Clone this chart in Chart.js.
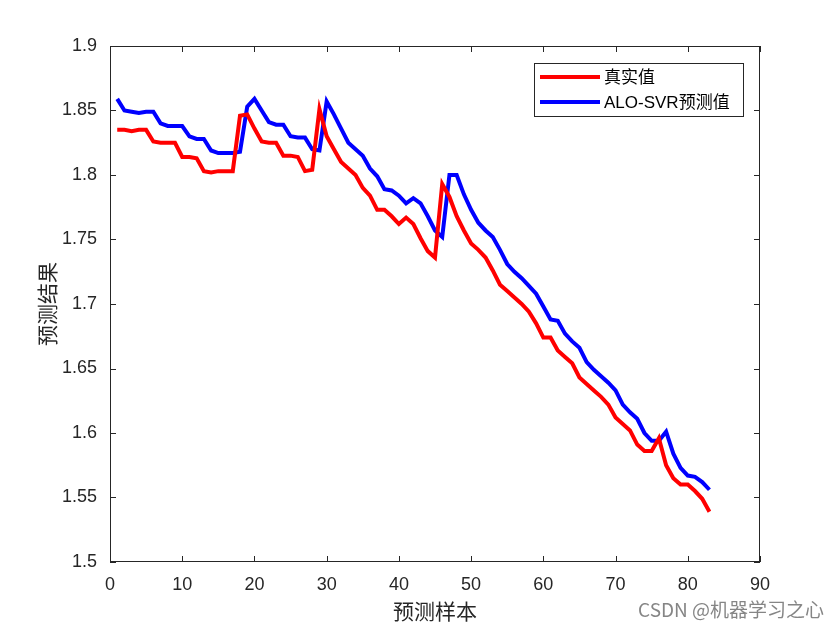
<!DOCTYPE html>
<html><head><meta charset="utf-8">
<script src="https://cdn.jsdelivr.net/npm/chart.js@4/dist/chart.umd.min.js"></script>
<style>html,body{margin:0;padding:0;background:#fff}#wrap{width:840px;height:630px;position:relative}</style>
</head><body><div id="wrap"><canvas id="c" width="840" height="630"></canvas></div>
<script>
const sampleIndex = Array.from({length: 83}, (_, i) => i + 1);
const actualValues = [1.835,1.835,1.834,1.835,1.835,1.826,1.825,1.825,1.825,1.814,1.814,1.813,1.803,1.802,1.803,1.803,1.803,1.846,1.847,1.836,1.826,1.825,1.825,1.815,1.815,1.814,1.803,1.804,1.851,1.830,1.820,1.810,1.805,1.800,1.790,1.784,1.773,1.773,1.768,1.762,1.767,1.762,1.751,1.741,1.736,1.793,1.783,1.768,1.757,1.747,1.742,1.736,1.726,1.715,1.710,1.705,1.700,1.694,1.685,1.674,1.674,1.664,1.659,1.654,1.643,1.638,1.633,1.628,1.622,1.612,1.607,1.602,1.591,1.586,1.586,1.596,1.575,1.565,1.560,1.560,1.555,1.549,1.539];
const predictedValues = [1.859,1.850,1.849,1.848,1.849,1.849,1.840,1.838,1.838,1.838,1.830,1.828,1.828,1.819,1.817,1.817,1.817,1.818,1.853,1.859,1.850,1.841,1.839,1.839,1.830,1.829,1.829,1.820,1.819,1.857,1.847,1.836,1.825,1.820,1.815,1.805,1.799,1.789,1.788,1.784,1.778,1.782,1.778,1.768,1.757,1.752,1.800,1.800,1.785,1.773,1.763,1.757,1.752,1.742,1.731,1.725,1.720,1.714,1.708,1.698,1.688,1.687,1.677,1.671,1.666,1.655,1.649,1.644,1.639,1.633,1.622,1.616,1.611,1.600,1.594,1.594,1.601,1.584,1.573,1.567,1.566,1.562,1.556];
const seriesNames = ['真实值', 'ALO-SVR预测值'];
const xTicks = [0,10,20,30,40,50,60,70,80,90];
const yTicks = [1.5,1.55,1.6,1.65,1.7,1.75,1.8,1.85,1.9];
const xTitle = '预测样本';
const yTitle = '预测结果';
const watermark = 'CSDN @机器学习之心';

const tickFont = {family: 'Liberation Sans, Arial, sans-serif', size: 18};
const cjkFont = '"Noto Sans CJK SC", sans-serif';

const framePlugin = {
  id: 'frame',
  afterDraw(chart) {
    const {ctx, chartArea: a, scales} = chart;
    ctx.save();
    ctx.strokeStyle = '#262626';
    ctx.lineWidth = 1;
    ctx.strokeRect(a.left + 0.5, a.top + 0.5, a.right - a.left - 1, a.bottom - a.top - 1);
    const tl = 6;
    ctx.beginPath();
    xTicks.forEach(v => {
      const x = Math.round(scales.x.getPixelForValue(v)) + 0.5;
      ctx.moveTo(x, a.bottom); ctx.lineTo(x, a.bottom - tl);
      ctx.moveTo(x, a.top); ctx.lineTo(x, a.top + tl);
    });
    yTicks.forEach(v => {
      const y = Math.round(scales.y.getPixelForValue(v)) + 0.5;
      ctx.moveTo(a.left, y); ctx.lineTo(a.left + tl, y);
      ctx.moveTo(a.right, y); ctx.lineTo(a.right - tl, y);
    });
    ctx.stroke();
    // legend
    const lx = 534, ly = 63, lw = 209, lh = 53;
    ctx.fillStyle = '#fff';
    ctx.fillRect(lx, ly, lw, lh);
    ctx.strokeStyle = '#262626';
    ctx.strokeRect(lx + 0.5, ly + 0.5, lw, lh);
    chart.data.datasets.forEach((ds, i) => {
      const yy = ly + 14 + i * 25;
      ctx.strokeStyle = ds.borderColor;
      ctx.lineWidth = 4;
      ctx.beginPath(); ctx.moveTo(lx + 6, yy); ctx.lineTo(lx + 66, yy); ctx.stroke();
      ctx.fillStyle = '#000';
      ctx.font = '17px Liberation Sans, ' + cjkFont;
      ctx.textBaseline = 'middle';
      ctx.textAlign = 'left';
      ctx.fillText(ds.label, lx + 70, yy + 1);
    });
    // watermark
    ctx.fillStyle = 'rgba(120,120,120,0.9)';
    ctx.font = '19px ' + cjkFont;
    ctx.textAlign = 'right';
    ctx.textBaseline = 'middle';
    ctx.fillText(watermark, 824, 610);
    ctx.restore();
  }
};

new Chart(document.getElementById('c'), {
  type: 'line',
  data: {
    datasets: [
      {label: seriesNames[0], data: sampleIndex.map((x, i) => ({x, y: actualValues[i]})), borderColor: '#ff0000', borderWidth: 4, pointRadius: 0, tension: 0, fill: false},
      {label: seriesNames[1], data: sampleIndex.map((x, i) => ({x, y: predictedValues[i]})), borderColor: '#0000ff', borderWidth: 4, pointRadius: 0, tension: 0, fill: false}
    ]
  },
  options: {
    responsive: false,
    animation: false,
    devicePixelRatio: 1,
    layout: {padding: {top: 46, right: 80, left: 0, bottom: 0}},
    plugins: {legend: {display: false}, tooltip: {enabled: false}},
    scales: {
      x: {
        type: 'linear', min: 0, max: 90,
        afterBuildTicks: s => { s.ticks = xTicks.map(v => ({value: v})); },
        afterFit: s => { s.height = 68; },
        grid: {display: false, drawTicks: false},
        border: {display: false},
        ticks: {font: tickFont, color: '#262626', padding: 12, maxRotation: 0, callback: v => String(v)},
        title: {display: true, text: xTitle, font: {family: cjkFont, size: 21}, color: '#262626', padding: {top: 0, bottom: 6}}
      },
      y: {
        type: 'linear', min: 1.5, max: 1.9,
        afterBuildTicks: s => { s.ticks = yTicks.map(v => ({value: v})); },
        afterFit: s => { s.width = 110; },
        grid: {display: false, drawTicks: false},
        border: {display: false},
        ticks: {font: tickFont, color: '#262626', padding: 13, callback: v => String(parseFloat(v.toFixed(2)))},
        title: {display: true, text: yTitle, font: {family: cjkFont, size: 21}, color: '#262626', padding: {top: 34, bottom: 0}}
      }
    }
  },
  plugins: [framePlugin]
});
</script></body></html>
